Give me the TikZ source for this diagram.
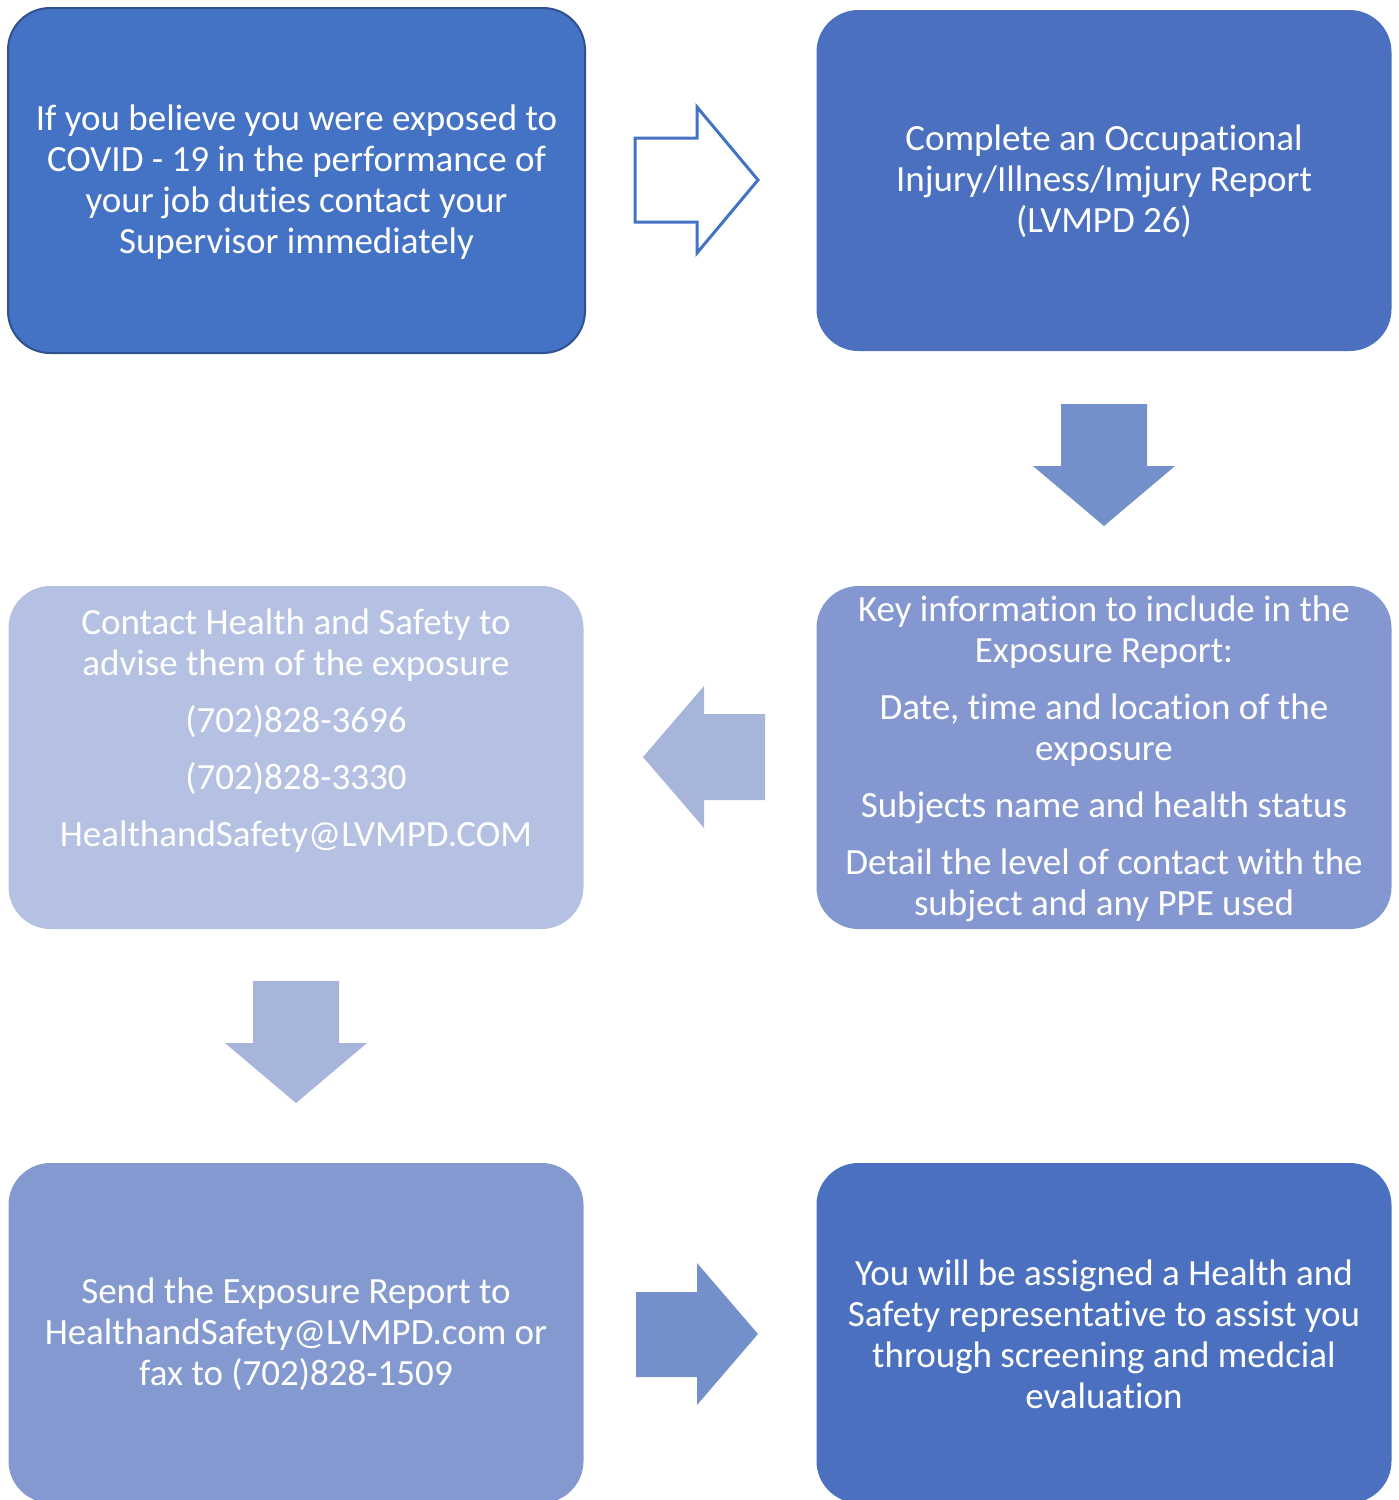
\documentclass[tikz,border=0pt]{standalone}
\usepackage{fontspec}
\setmainfont{Carlito}[Ligatures=NoCommon]
\definecolor{cA}{HTML}{4472C4}
\definecolor{cAedge}{HTML}{2F528F}
\definecolor{cB}{HTML}{4A70BF}
\definecolor{cKey}{HTML}{8497D0}
\definecolor{cContact}{HTML}{B4C1E2}
\definecolor{cSend}{HTML}{8399CF}
\definecolor{cArrowMid}{HTML}{7490CB}
\definecolor{cArrowLight}{HTML}{A7B5DA}
\begin{document}
\begin{tikzpicture}[x=1pt,y=-1pt,
  box/.style={rectangle, rounded corners=42pt, inner sep=0pt, outer sep=0pt,
    minimum width=575pt, text=white, align=center,
    font=\fontsize{37}{41}\selectfont},
  txt/.style={inner sep=0pt, text=white, align=center, font=\fontsize{37}{41}\selectfont}]
\useasboundingbox (0,0) rectangle (1399,1500);
\clip (0,0) rectangle (1399,1500);
% boxes
\node[box, fill=cA, draw=cAedge, line width=2pt, minimum width=577pt, minimum height=345pt] (b1) at (296.5,180.5) {};
\node[txt] (t1) at (296.5,182)
  {If you believe you were exposed to\\COVID - 19 in the performance of\\your job duties contact your\\Supervisor immediately};
\node[box, fill=cB, minimum height=341pt] (b2) at (1104,180.5) {};
\node[txt] (t2) at (1104,181.5)
  {Complete an Occupational\\Injury/Illness/Imjury Report\\(LVMPD 26)};
\node[box, fill=cKey, minimum height=343pt] (b3) at (1104,757.5) {};
\node[txt] (t3) at (1104,758.5)
  {Key information to include in the\\Exposure Report:\\[16pt]Date, time and location of the\\exposure\\[16pt]Subjects name and health status\\[16pt]Detail the level of contact with the\\subject and any PPE used};
\node[box, fill=cContact, minimum height=343pt] (b4) at (296,757.5) {};
\node[txt] (t4) at (296,731)
  {Contact Health and Safety to\\advise them of the exposure\\[16pt](702)828-3696\\[16pt](702)828-3330\\[16pt]HealthandSafety@LVMPD.COM};
\node[box, fill=cSend, minimum height=340pt] (b5) at (296,1333) {};
\node[txt] (t5) at (296,1334.5)
  {Send the Exposure Report to\\HealthandSafety@LVMPD.com or\\fax to (702)828-1509};
\node[box, fill=cB, minimum height=340pt] (b6) at (1104,1333) {};
\node[txt] (t6) at (1104,1334)
  {You will be assigned a Health and\\Safety representative to assist you\\through screening and medcial\\evaluation};
% block arrows
\draw[cA, line width=3pt, fill=white, line join=miter]
  (635,138) -- (697,138) -- (697,107) -- (758,180) -- (697,253) -- (697,222) -- (635,222) -- cycle;
\fill[cArrowMid]
  (1061,404) -- (1147,404) -- (1147,466) -- (1175,466) -- (1104,526) -- (1033,466) -- (1061,466) -- cycle;
\fill[cArrowLight]
  (765,714) -- (704,714) -- (704,686) -- (643,757) -- (704,828) -- (704,800) -- (765,800) -- cycle;
\fill[cArrowLight]
  (253,981) -- (339,981) -- (339,1043) -- (367,1043) -- (296,1103) -- (225,1043) -- (253,1043) -- cycle;
\fill[cArrowMid]
  (636,1292) -- (697,1292) -- (697,1263) -- (758,1334) -- (697,1405) -- (697,1377) -- (636,1377) -- cycle;
\end{tikzpicture}
\end{document}
